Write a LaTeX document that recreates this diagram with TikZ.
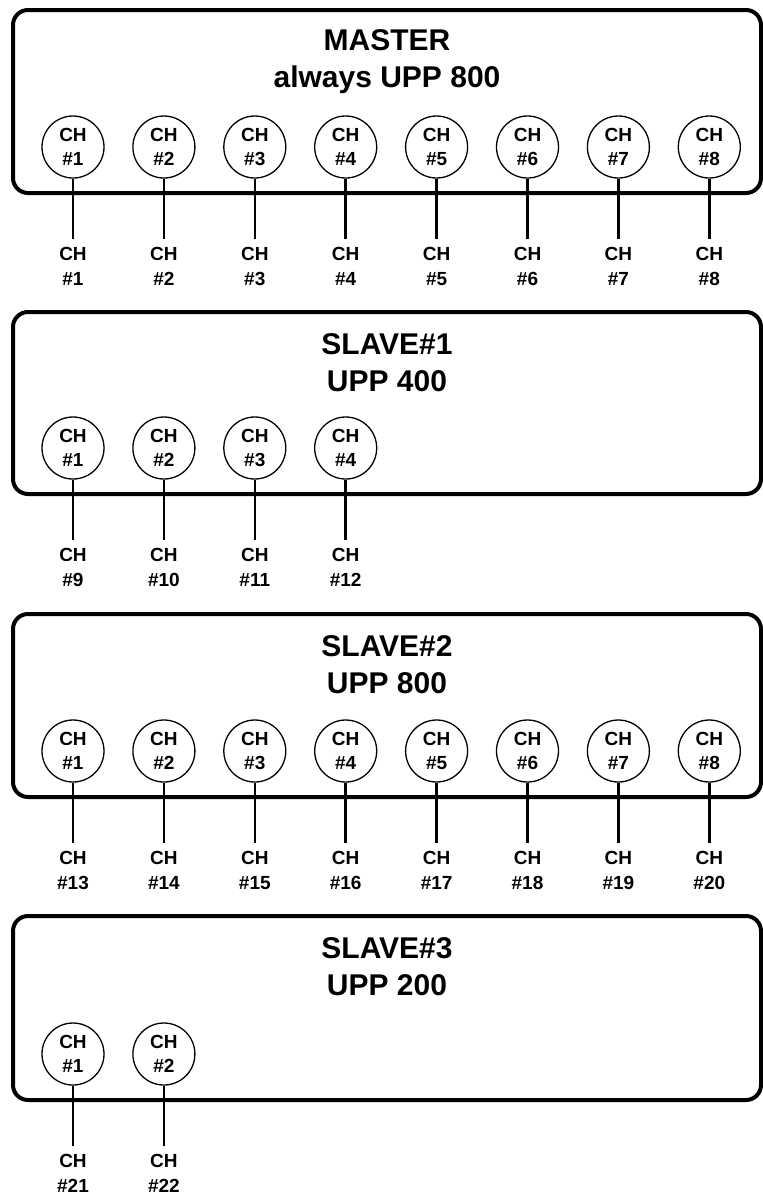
\documentclass[tikz,border=0pt]{standalone}
\usepackage{fontspec}
\setmainfont{Liberation Sans}
\tikzset{
  panel/.style={line width=4pt, rounded corners=15pt},
  chan/.style={circle, draw, line width=1.3pt, minimum size=62pt, inner sep=0pt,
    align=center, font=\fontsize{19}{24}\selectfont\bfseries},
  outlbl/.style={anchor=north, inner sep=0pt, align=center,
    font=\fontsize{19}{25}\selectfont\bfseries},
  title/.style={align=center, font=\fontsize{30}{37}\selectfont\bfseries},
  wire/.style={line width=2.5pt, shorten >=8pt}
}
\begin{document}
\begin{tikzpicture}[x=1pt, y=-1pt]
    \useasboundingbox (0,0) rectangle (763,1195);

    % 1. master
    \draw[panel] (13,10) rectangle (761,193);
    \node[title] (tma) at (387,62) {MASTER\\always UPP 800};
    \foreach \i in {1,...,8} {
        \node[chan] (ma\i) at ({73+90.9*(\i-1)},147) {CH\\\#\i};
        \node[outlbl] (oa\i) at ({73+90.9*(\i-1)},247) {CH\\\#\i};
        \draw[wire] (ma\i) -- (oa\i.north);
    }

    % 2. slave 1
    \draw[panel] (13,312) rectangle (761,494);
    \node[title] (tsa) at (387,363) {SLAVE\#1\\UPP 400};
    \foreach \i [evaluate=\i as \k using int(\i+8)] in {1,...,4} {
        \node[chan] (sa\i) at ({73+90.9*(\i-1)},448) {CH\\\#\i};
        \node[outlbl] (ob\i) at ({73+90.9*(\i-1)},548) {CH\\\#\k};
        \draw[wire] (sa\i) -- (ob\i.north);
    }

    % 3. slave 2
    \draw[panel] (13,614) rectangle (761,797);
    \node[title] (tsb) at (387,665) {SLAVE\#2\\UPP 800};
    \foreach \i [evaluate=\i as \k using int(\i+12)] in {1,...,8} {
        \node[chan] (sb\i) at ({73+90.9*(\i-1)},751) {CH\\\#\i};
        \node[outlbl] (oc\i) at ({73+90.9*(\i-1)},851) {CH\\\#\k};
        \draw[wire] (sb\i) -- (oc\i.north);
    }

    % 4. slave 3
    \draw[panel] (13,916) rectangle (761,1100);
    \node[title] (tsc) at (387,967) {SLAVE\#3\\UPP 200};
    \foreach \i [evaluate=\i as \k using int(\i+20)] in {1,2} {
        \node[chan] (sc\i) at ({73+90.9*(\i-1)},1054) {CH\\\#\i};
        \node[outlbl] (od\i) at ({73+90.9*(\i-1)},1154) {CH\\\#\k};
        \draw[wire] (sc\i) -- (od\i.north);
    }

\end{tikzpicture}
\end{document}
